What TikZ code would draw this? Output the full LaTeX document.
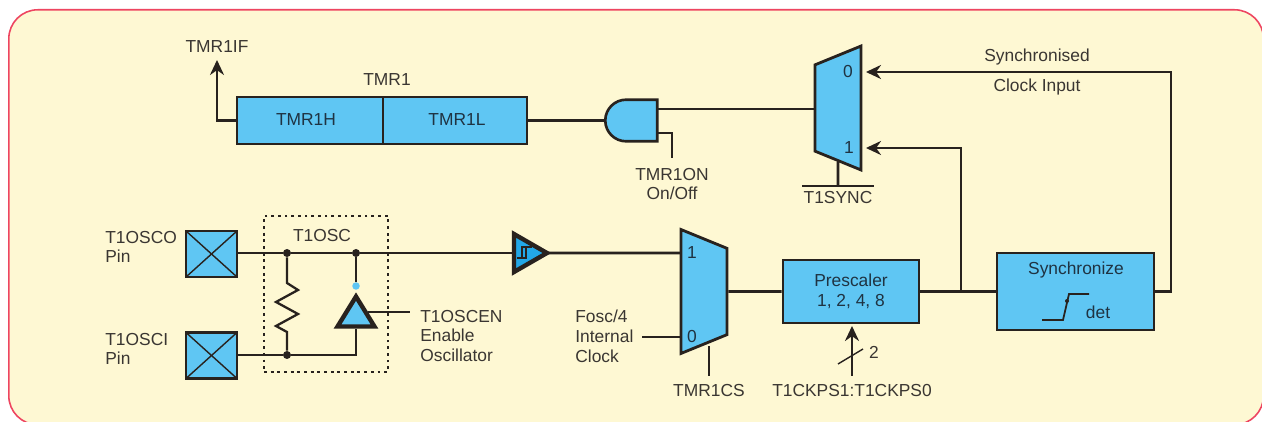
\documentclass[tikz,border=0pt]{standalone}
\usepackage{fontspec}
\setmainfont{Liberation Sans}
\usetikzlibrary{shapes.geometric, shapes.gates.logic.US, arrows.meta, positioning, calc}
\definecolor{panelfill}{HTML}{FEF8D3}
\definecolor{panelline}{HTML}{EE4560}
\definecolor{partblue}{HTML}{5FC6F3}
\definecolor{deepblue}{HTML}{22A8E8}
\definecolor{wirecol}{HTML}{28221E}
\definecolor{txtcol}{HTML}{3A3632}
\definecolor{inkcol}{HTML}{1F3342}
\begin{document}
\begin{tikzpicture}[
    x=0.02cm, y=-0.02cm,
    font=\fontsize{9.9}{11.3}\selectfont,
    >={Stealth[length=0.3cm,width=0.28cm]},
    % Base styles for parts and wires
    wire/.style={draw=wirecol, line width=1.6pt},
    part/.style={rectangle, draw=wirecol, line width=1.6pt, fill=partblue, align=center, text=inkcol, inner sep=0pt},
    pin/.style={part, minimum width=1.02cm, minimum height=0.92cm, path picture={
        \draw [wirecol, line width=0.8pt] (path picture bounding box.north west) -- (path picture bounding box.south east);
        \draw [wirecol, line width=0.8pt] (path picture bounding box.south west) -- (path picture bounding box.north east);}},
    mux/.style={trapezium, trapezium stretches=true, trapezium angle=74.5, draw=wirecol, line width=1.6pt, fill=partblue, inner sep=0pt, minimum height=0.92cm, minimum width=2.48cm},
    buffer/.style={isosceles triangle, isosceles triangle stretches=true, draw=wirecol, line width=2.5pt, fill=partblue, inner sep=0pt},
    tag/.style={text=txtcol, inner sep=0pt, align=center},
    lefttag/.style={tag, align=left, anchor=west},
    muxtag/.style={text=inkcol, inner sep=0pt},
    joint/.style={circle, fill=wirecol, inner sep=0pt, minimum size=0.16cm}
]

\useasboundingbox (0,0) rectangle (1262,422);
\fill [white] (0,0) rectangle (1262,422);

% --- Panel ---
\node [rectangle, rounded corners=0.58cm, draw=panelline, line width=0.9pt, fill=panelfill, minimum width=25.1cm, minimum height=8.3cm, anchor=north west] (panel) at (8,9) {};

% --- Nodes ---
\node [part, minimum width=2.92cm, minimum height=0.94cm] (tmrh) at (310,120.5) {};
\node [part, minimum width=2.88cm, minimum height=0.94cm] (tmrl) at (455,120.5) {};
\node [muxtag] at (306,120) {TMR1H};
\node [muxtag] at (457,120) {TMR1L};
\node [tag] (tmrlabel) at (387,80) {TMR1};
\node [tag] (iflabel) at (217,47) {TMR1IF};

\node [and gate US, draw=wirecol, line width=1.5pt, fill=partblue, logic gate inputs=nn, xscale=-1, inner sep=0pt, minimum width=1.04cm, minimum height=0.8cm] (gate) at (633,120.5) {};
\node [tag] (onlabel) at (672,184) {TMR1ON\\[0pt]On/Off};

\node [mux, shape border rotate=90] (muxsync) at (838,108) {\phantom{0}};
\node [muxtag] at (848,72) {0};
\node [muxtag] at (849,148) {1};
\node [tag] (synclabel) at (838,198) {T1SYNC};

\node [mux, shape border rotate=270] (muxclk) at (704,291.5) {\phantom{0}};
\node [muxtag] at (692,253) {1};
\node [muxtag] at (692,337) {0};
\node [tag] (cslabel) at (709,391) {TMR1CS};
\node [lefttag] (foscl) at (575,336) {Fosc/4\\[0pt]Internal\\[0pt]Clock};

\node [part, minimum width=2.72cm, minimum height=1.26cm] (prescaler) at (851,291.5) {Prescaler\\[0pt]1, 2, 4, 8};
\node [tag] (kpslabel) at (852,391) {T1CKPS1:T1CKPS0};
\node [tag] (twolabel) at (874,352) {2};

\node [part, minimum width=3.14cm, minimum height=1.54cm] (sync) at (1075.5,291.5) {};
\node [muxtag] at (1076,270) {Synchronize};
\node [muxtag] at (1098,312) {det};

\node [tag] (syncd) at (1037,57) {Synchronised};
\node [tag] (clkin) at (1037,87) {Clock Input};

\node [pin] (osco) at (211.5,254) {};
\node [pin] (osci) at (211.5,355.5) {};
\node [lefttag] (oscolabel) at (105,247) {T1OSCO\\[0pt]Pin};
\node [lefttag] (oscilabel) at (105,349) {T1OSCI\\[0pt]Pin};

\node [rectangle, draw=wirecol, line width=1pt, dash pattern=on 1.6pt off 2.2pt, minimum width=2.48cm, minimum height=3.12cm] (oscbox) at (326,294) {};
\node [tag] (osclabel) at (322,236) {T1OSC};
\node [lefttag] (enlabel) at (420,336) {T1OSCEN\\[0pt]Enable\\[0pt]Oscillator};

\node [joint] (jleft) at (287,253) {};
\node [joint] (jright) at (356,253) {};
\node [joint] (jlow) at (287,355) {};

\node [buffer, shape border rotate=90, minimum width=0.74cm, minimum height=0.6cm] (enbuf) at (356,317) {\phantom{0}};
\node [circle, fill=partblue, inner sep=0pt, minimum size=0.15cm] (bubble) at (356,286) {};

\node [buffer, fill=deepblue, minimum width=0.76cm, minimum height=0.66cm] (schmitt) at (523,253) {\phantom{0}};

% Free wire ends
\coordinate (jout) at (961,291.5);
\coordinate (ifturn) at (217,120.5);
\coordinate (iftip) at (217,60);
\coordinate (gateout) at (657,109);
\coordinate (gateen) at (657,133);
\coordinate (onturn) at (672,133);
\coordinate (onend) at (672,158);
\coordinate (muxin) at (815,109);
\coordinate (tipzero) at (866,72);
\coordinate (tipone) at (866,148);
\coordinate (barleft) at (802,186);
\coordinate (barmid) at (838,186);
\coordinate (barright) at (874,186);
\coordinate (clkone) at (681,253);
\coordinate (clkzero) at (681,337);
\coordinate (foscend) at (642,337);
\coordinate (csjoin) at (709,346);
\coordinate (csend) at (709,376);
\coordinate (kpsend) at (852,376);
\coordinate (kpstip) at (852,326);
\coordinate (slasha) at (838,364);
\coordinate (slashb) at (863,349);
\coordinate (syncturn) at (1171,72);
\coordinate (syncback) at (1171,291.5);
\coordinate (enstart) at (368,312);
\coordinate (enend) at (410,312);
\coordinate (lowturn) at (356,355);

% --- Wires ---
\draw [wire, ->] (tmrh.west) -- (ifturn) -- (iftip);
\draw [wire] (tmrl.east) -- (gate.east);
\draw [wire] (gateout) -- (muxin);
\draw [wire] (gateen) -- (onturn) -- (onend);
\draw [wire] (muxsync.south) -- (barmid);
\draw [wire, line width=1.1pt] (barleft) -- (barright);

\draw [wire] (osco.east |- jleft) -- (jleft) -- (jright) -- (schmitt.west |- jright);
\draw [wire] ($(schmitt.east)+(-4,0)$) -- (clkone);
\draw [wire] (osci.east |- jlow) -- (jlow) -- (lowturn) -- (enbuf.south);
\draw [wire] (jright) -- (bubble);
\draw [wire] (enstart) -- (enend);

% Resistor
\draw [wire, line width=1.3pt] (jleft) -- ++(0,30) -- ++(11,7) -- ++(-22,12) -- ++(22,12) -- ++(-22,12) -- ++(11,6) -- (jlow);

\draw [wire] (foscend) -- (clkzero);
\draw [wire] (muxclk.east) -- (prescaler.west);
\draw [wire] (csend) -- (csjoin);
\draw [wire] (prescaler.east) -- (sync.west);
\draw [wire, ->] (jout) |- (tipone);
\draw [wire, ->] (sync.east) -- (syncback) -- (syncturn) -- (tipzero);
\draw [wire, ->] (kpsend) -- (kpstip);
\draw [wire, line width=0.8pt] (slasha) -- (slashb);

% Schmitt and edge marks
\draw [wirecol, line width=0.8pt] (517,258) -- (526,258) -- (526,247) -- (532,247);
\draw [wirecol, line width=0.8pt] (522,258) -- (522,247) -- (526,247);
\draw [wirecol, line width=1pt] (1042,320) -- (1063,320) -- (1069,294) -- (1089,294);
\fill [wirecol] (1067,301) circle (0.04cm);

\end{tikzpicture}
\end{document}
